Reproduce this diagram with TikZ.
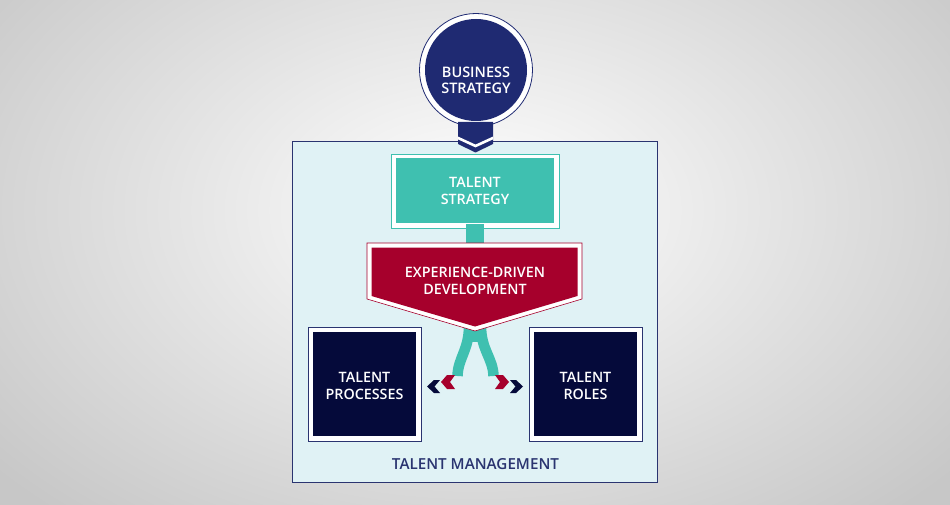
\documentclass[tikz,border=0pt]{standalone}
\usepackage{fontspec}
\setmainfont{Open Sans}[UprightFont=* Semibold]
\definecolor{navyc}{HTML}{1F2A72}
\definecolor{darknavy}{HTML}{050A3A}
\definecolor{tealc}{HTML}{3FC0B0}
\definecolor{crim}{HTML}{A6002C}
\definecolor{lightbg}{HTML}{E0F2F5}
\definecolor{boxline}{HTML}{2A3470}
\begin{document}
\begin{tikzpicture}[x=1pt,y=-1pt,
  lbl/.style={text=white,font=\fontsize{14.3}{17}\selectfont,align=center,inner sep=0pt},
  darkbox/.style={fill=darknavy,minimum width=103pt,minimum height=104pt,inner sep=0pt},
  framebox/.style={draw=boxline,line width=0.7pt,fill=white,minimum width=113pt,minimum height=114pt,inner sep=0pt}]
\useasboundingbox (0,0) rectangle (950,505);
\shade[inner color=white,outer color=black!22] (-150,-200) rectangle (1100,620);
% talent management container
\node[draw=boxline,line width=0.7pt,fill=lightbg,minimum width=365pt,minimum height=341pt,inner sep=0pt] (tm) at (474.5,311.5) {};
% business strategy circle
\node[circle,draw=navyc,line width=0.8pt,fill=white,minimum size=113pt,inner sep=0pt] (bsout) at (476,70) {};
% chevron under circle
\fill[navyc] (458,122) -- (493,122) -- (493,144) -- (475.5,152.5) -- (458,144) -- cycle;
\begin{scope}
\clip (458,122) rectangle (493,155);
\draw[white,line width=2.6pt] (457,137.5) -- (475.5,146) -- (494,137.5);
\end{scope}
\node[circle,fill=navyc,minimum size=102pt,inner sep=0pt] (bs) at (476,70) {};
\node[lbl,font=\fontsize{14.5}{16}\selectfont] (bst) at (476,80) {BUSINESS\\STRATEGY};
% talent strategy
\node[draw=tealc,line width=0.6pt,fill=white,minimum width=168pt,minimum height=74pt,inner sep=0pt] (tsout) at (475,191) {};
\node[fill=tealc,minimum width=158pt,minimum height=65pt,inner sep=0pt] (ts) at (475,190.5) {};
\node[lbl] (tst) at (475,191) {TALENT\\STRATEGY};
% connector
\fill[tealc] (466,224) rectangle (484,246);
% teal legs
\fill[tealc] (464,325) rectangle (486,342);
\draw[tealc,line width=10.5pt] (469,326) .. controls (469,350) and (458,358) .. (457.5,376);
\draw[tealc,line width=10.5pt] (481,326) .. controls (481,350) and (493,358) .. (493.5,376);
% experience-driven pentagon
\draw[crim,line width=0.6pt,fill=white] (367,243) -- (582,243) -- (582,299) -- (475,331) -- (367,299) -- cycle;
\fill[crim] (371.5,247.5) -- (577.5,247.5) -- (577.5,296) -- (475,326.5) -- (371.5,296) -- cycle;
\node[lbl] (edd) at (475,281) {EXPERIENCE-DRIVEN\\DEVELOPMENT};
% small chevrons
\fill[crim] (455,375) -- (447,375) -- (441,382) -- (447,389) -- (455,389) -- (450,382) -- cycle;
\fill[darknavy] (440,380) -- (434,380) -- (427,386.5) -- (434,393) -- (440,393) -- (434.5,386.5) -- cycle;
\fill[crim] (495,375) -- (503,375) -- (509,382) -- (503,389) -- (495,389) -- (500,382) -- cycle;
\fill[darknavy] (510,380) -- (516,380) -- (523,386.5) -- (516,393) -- (510,393) -- (515.5,386.5) -- cycle;
% talent processes
\node[framebox] (tpout) at (364.5,384) {};
\node[darkbox] (tp) at (364.5,384) {};
\node[lbl] (tpt) at (364.5,386) {TALENT\\PROCESSES};
% talent roles
\node[framebox] (trout) at (585.5,384) {};
\node[darkbox] (tr) at (585.5,384) {};
\node[lbl] (trt) at (585.5,386) {TALENT\\ROLES};
% label
\node[text=boxline,font=\fontsize{15.2}{16}\selectfont,inner sep=0pt] (tml) at (475.5,464) {TALENT MANAGEMENT};
\end{tikzpicture}
\end{document}
